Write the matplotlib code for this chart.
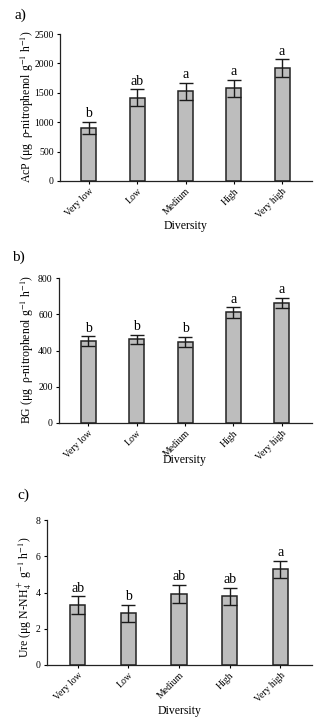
import matplotlib
matplotlib.use("Agg")
import matplotlib.pyplot as plt
import numpy as np

categories = ["Very low", "Low", "Medium", "High", "Very high"]

acp_mean = [900, 1420, 1530, 1575, 1920]
acp_err = [105, 140, 145, 145, 155]
acp_letters = ["b", "ab", "a", "a", "a"]

bg_mean = [452, 461, 447, 611, 662]
bg_err = [27, 27, 28, 29, 30]
bg_letters = ["b", "b", "b", "a", "a"]

ure_mean = [3.3, 2.85, 3.92, 3.78, 5.28]
ure_err = [0.48, 0.47, 0.48, 0.48, 0.48]
ure_letters = ["ab", "b", "ab", "ab", "a"]

acp_ticks = [0, 500, 1000, 1500, 2000, 2500]
bg_ticks = [0, 200, 400, 600, 800]
ure_ticks = [0, 2, 4, 6, 8]

plt.rcParams["font.family"] = ["Liberation Serif", "DejaVu Serif"]
plt.rcParams["mathtext.fontset"] = "stix"

W, H = 336, 726
fig = plt.figure(figsize=(W / 100, H / 100), dpi=100)


def px_axes(left, right, top, bottom):
    return fig.add_axes([left / W, (H - bottom) / H, (right - left) / W, (bottom - top) / H])


def panel(ax, means, errs, letters, ticks, xlim, width, letter_off):
    x = np.arange(len(categories))
    ax.bar(x, means, width=width, color="#bdbdbd", edgecolor="#222222", linewidth=1.1, zorder=2)
    ax.errorbar(x, means, yerr=errs, fmt="none", ecolor="#1a1a1a", elinewidth=1.0,
                capsize=5, capthick=1.0, zorder=3)
    for xi, m, e, l in zip(x, means, errs, letters):
        ax.text(xi, m + e + letter_off, l, ha="center", va="bottom", fontsize=10)
    ax.set_xlim(*xlim)
    ax.set_ylim(ticks[0], ticks[-1])
    ax.set_yticks(ticks)
    ax.set_xticks(x)
    ax.set_xticklabels(categories, rotation=45, ha="right", rotation_mode="anchor", fontsize=7)
    ax.tick_params(axis="y", labelsize=7, length=2.5, width=0.8, pad=2)
    ax.tick_params(axis="x", length=2.5, width=0.8, pad=1.5)
    for s in ["top", "right"]:
        ax.spines[s].set_visible(False)
    for s in ["left", "bottom"]:
        ax.spines[s].set_linewidth(0.9)
        ax.spines[s].set_color("#222222")


ax1 = px_axes(60, 312, 34, 181)
panel(ax1, acp_mean, acp_err, acp_letters, acp_ticks, (-0.6, 4.62), 0.31, 25)
ax2 = px_axes(59, 312, 278, 423)
panel(ax2, bg_mean, bg_err, bg_letters, bg_ticks, (-0.6, 4.62), 0.31, 8)
ax3 = px_axes(47, 312, 520, 665)
panel(ax3, ure_mean, ure_err, ure_letters, ure_ticks, (-0.61, 4.63), 0.30, 0.1)

# y labels
fig.text(27 / W, 1 - 107 / H, "AcP (μg  ρ-nitrophenol g$^{-1}$ h$^{-1}$)",
         rotation=90, ha="center", va="center", fontsize=8.5)
fig.text(27 / W, 1 - 350 / H, "BG (μg  ρ-nitrophenol g$^{-1}$ h$^{-1}$)",
         rotation=90, ha="center", va="center", fontsize=8.5)
fig.text(25 / W, 1 - 597 / H, "Ure (μg N-NH$_4^+$ g$^{-1}$ h$^{-1}$)",
         rotation=90, ha="center", va="center", fontsize=8.5)

# x labels
fig.text(186 / W, 1 - 226 / H, "Diversity", ha="center", va="center", fontsize=8.5)
fig.text(185 / W, 1 - 460 / H, "Diversity", ha="center", va="center", fontsize=8.5)
fig.text(180 / W, 1 - 711 / H, "Diversity", ha="center", va="center", fontsize=8.5)

# panel letters
fig.text(20 / W, 1 - 15 / H, "a)", ha="center", va="center", fontsize=11)
fig.text(18 / W, 1 - 257 / H, "b)", ha="center", va="center", fontsize=11)
fig.text(23 / W, 1 - 495 / H, "c)", ha="center", va="center", fontsize=11)

fig.savefig("out.png", dpi=100, facecolor="white")
